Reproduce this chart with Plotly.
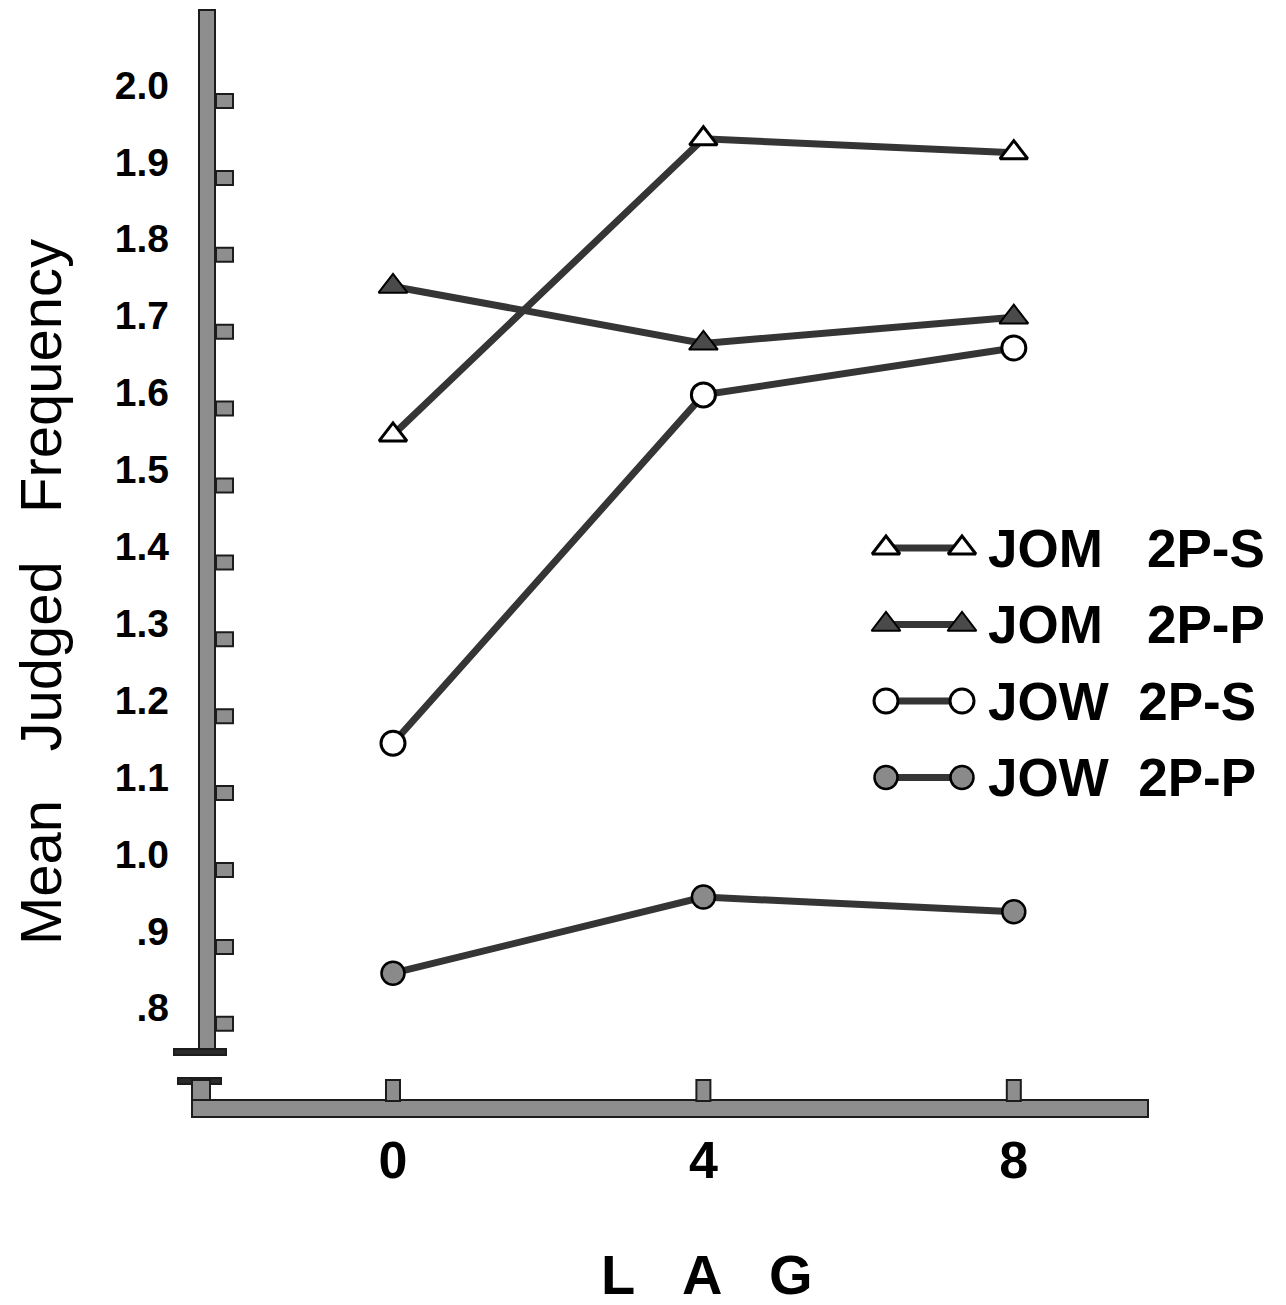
import plotly.graph_objects as go

# ---------------- data ----------------
lags = [0, 4, 8]
jom_2ps = [1.545, 1.930, 1.912]
jom_2pp = [1.738, 1.664, 1.698]
jow_2ps = [1.144, 1.597, 1.658]
jow_2pp = [0.845, 0.944, 0.925]

series_names = ["JOM 2P-S", "JOM 2P-P", "JOW 2P-S", "JOW 2P-P"]
legend_labels = ["JOM\u00a0\u00a0\u00a02P-S", "JOM\u00a0\u00a0\u00a02P-P",
                 "JOW\u00a0\u00a02P-S", "JOW\u00a0\u00a02P-P"]

y_tickvals = [0.8, 0.9, 1.0, 1.1, 1.2, 1.3, 1.4, 1.5, 1.6, 1.7, 1.8, 1.9, 2.0]
y_ticktext = [".8", ".9", "1.0", "1.1", "1.2", "1.3", "1.4", "1.5", "1.6", "1.7", "1.8", "1.9", "2.0"]
x_tickvals = [0, 4, 8]
x_ticktext = ["0", "4", "8"]

x_title = "L\u00a0\u00a0\u00a0A\u00a0\u00a0\u00a0G"
y_title = "Mean\u00a0\u00a0\u00a0Judged\u00a0\u00a0\u00a0Frequency"

# ---------------- layout constants (screen pixels) ----------------
OFF = 8                      # page body margin
FIG_W, FIG_H = 1286 - OFF, 1305 - OFF
L, R, T, B = 200, 1150, 10, 1118
X_RANGE = [-2.487, 9.755]
Y_RANGE = [0.6567, 2.0975]
FONT = "Liberation Sans, Arial, sans-serif"
LINE_COLOR = "#353535"
AXIS_FILL = "#8e8e8e"
AXIS_EDGE = "#1c1c1c"


def px_x(p):
    return (p - L) / (R - L)


def px_y(p):
    return (B - p) / (B - T)


def dx(v):
    return L + (v - X_RANGE[0]) / (X_RANGE[1] - X_RANGE[0]) * (R - L)


def dy(v):
    return B - (v - Y_RANGE[0]) / (Y_RANGE[1] - Y_RANGE[0]) * (B - T)


styles = [
    dict(symbol="triangle-up", color="white", lw=3, size=24),
    dict(symbol="triangle-up", color="#4a4a4a", lw=2, size=25),
    dict(symbol="circle", color="white", lw=3, size=24),
    dict(symbol="circle", color="#8a8a8a", lw=2.5, size=23),
]
values = [jom_2ps, jom_2pp, jow_2ps, jow_2pp]

fig = go.Figure()

for name, vals, st in zip(series_names, values, styles):
    fig.add_trace(go.Scatter(
        x=lags, y=vals, name=name, mode="lines+markers",
        line=dict(color=LINE_COLOR, width=7),
        marker=dict(symbol=st["symbol"], size=st["size"], color=st["color"],
                    line=dict(color="black", width=st["lw"])),
        showlegend=False, cliponaxis=False,
    ))

# custom legend keys on a pixel-scaled overlay axis
LEG_KEY_X = (886, 962)
LEG_ROW0 = 548
LEG_DY = 76.5
for i, (lab, st) in enumerate(zip(legend_labels, styles)):
    yrow = LEG_ROW0 + i * LEG_DY
    fig.add_trace(go.Scatter(
        x=list(LEG_KEY_X), y=[yrow, yrow], mode="lines+markers",
        xaxis="x2", yaxis="y2",
        line=dict(color=LINE_COLOR, width=7),
        marker=dict(symbol=st["symbol"], size=st["size"], color=st["color"],
                    line=dict(color="black", width=st["lw"])),
        showlegend=False, hoverinfo="skip", cliponaxis=False,
    ))
    fig.add_annotation(
        x=px_x(986), y=px_y(yrow), xref="paper", yref="paper",
        text=lab, showarrow=False, xanchor="left", yanchor="middle",
        font=dict(family=FONT, size=53, color="black", weight="bold"),
    )

shapes = []


def rect(x0, y0, x1, y1, fill=AXIS_FILL, edge=AXIS_EDGE, w=2):
    shapes.append(dict(type="rect", xref="paper", yref="paper",
                       x0=px_x(x0), x1=px_x(x1), y0=px_y(y0), y1=px_y(y1),
                       fillcolor=fill, line=dict(color=edge, width=w), layer="above"))


# y-axis (with break)
rect(199, 10, 215, 1052)
rect(174, 1049, 226, 1055, fill="#2a2a2a")
rect(178, 1078, 221, 1084, fill="#2a2a2a")
rect(192, 1080, 210, 1117)
# x-axis
rect(192, 1100, 1148, 1117)
# y tick marks (drawn just below each label, as in the original)
for v in y_tickvals:
    c = dy(v) + 16
    rect(216, c - 7, 233, c + 7)
# x tick marks
for v in x_tickvals:
    c = dx(v)
    rect(c - 7, 1080, c + 7, 1101)

fig.add_annotation(
    x=px_x(707), y=px_y(1274), xref="paper", yref="paper", text=x_title,
    showarrow=False, xanchor="center", yanchor="middle",
    font=dict(family=FONT, size=56, color="black", weight="bold"),
)
fig.add_annotation(
    x=px_x(40), y=px_y(592), xref="paper", yref="paper", text=y_title,
    showarrow=False, xanchor="center", yanchor="middle", textangle=-90,
    font=dict(family=FONT, size=58, color="black"),
)

fig.update_layout(
    width=FIG_W, height=FIG_H,
    margin=dict(l=L - OFF, r=FIG_W - (R - OFF), t=T - OFF, b=FIG_H - (B - OFF)),
    paper_bgcolor="white", plot_bgcolor="white",
    shapes=shapes,
    xaxis=dict(range=X_RANGE, tickvals=x_tickvals, ticktext=x_ticktext,
               showgrid=False, zeroline=False, showline=False, ticks="",
               ticklabelstandoff=7,
               tickfont=dict(family=FONT, size=52, color="black", weight="bold")),
    yaxis=dict(range=Y_RANGE, tickvals=y_tickvals, ticktext=y_ticktext,
               showgrid=False, zeroline=False, showline=False, ticks="",
               ticklabelstandoff=30,
               tickfont=dict(family=FONT, size=39, color="black", weight="bold")),
    xaxis2=dict(range=[L, R], overlaying="x", anchor="y2", visible=False),
    yaxis2=dict(range=[B, T], overlaying="y", anchor="x2", visible=False),
)

fig.write_html("out.html")
